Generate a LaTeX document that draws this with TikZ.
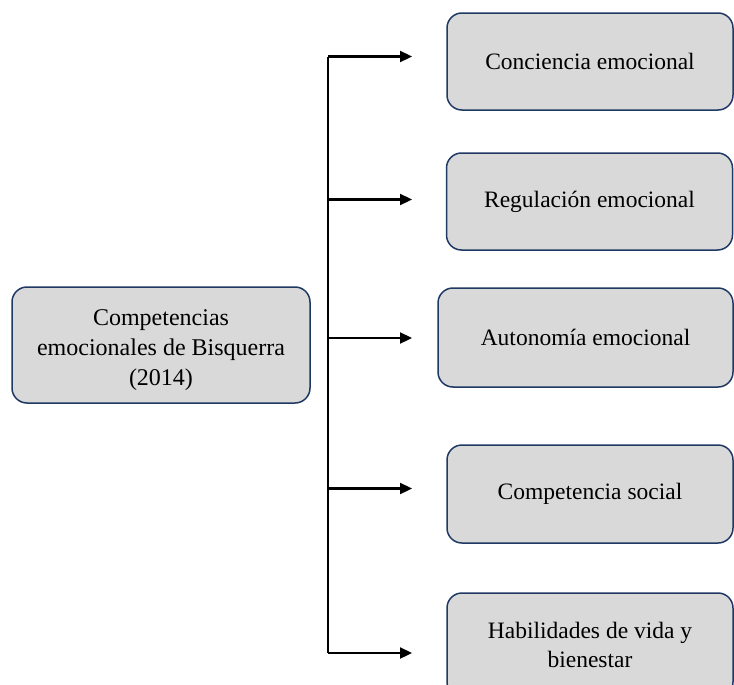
\documentclass[tikz,border=0pt]{standalone}
\usepackage{fontspec}
\setmainfont{Liberation Serif}
\usetikzlibrary{arrows.meta}
\definecolor{boxfill}{HTML}{D9D9D9}
\definecolor{boxline}{HTML}{1F3864}
\tikzset{
  item/.style={draw=boxline, fill=boxfill, line width=0.75pt, rounded corners=7.5pt,
    align=center, inner sep=0pt, minimum width=143pt, minimum height=48.5pt,
    font=\fontsize{11.75}{14.8}\selectfont},
  link/.style={line width=1.15pt, -{Triangle[length=6pt,width=5.5pt]}},
  trunk/.style={line width=1.15pt}
}
\begin{document}
\begin{tikzpicture}[x=0.5pt,y=-0.5pt]
  \useasboundingbox (0,0) rectangle (734,685);
  % source box, its text set a little below the centre
  \node[item, minimum width=149pt, minimum height=58pt,
    label={[align=center, font=\fontsize{12}{15}\selectfont, yshift=-2.5pt]center:{Competencias\\emocionales de Bisquerra\\(2014)}}]
    (main) at (161,345) {};
  % competence boxes
  \node[item] (c1) at (590,61.5) {Conciencia emocional};
  \node[item] (c2) at (589.5,201.5) {Regulación emocional};
  \node[item, minimum width=147.5pt, minimum height=49.5pt] (c3) at (585.5,337.5) {Autonomía emocional};
  \node[item, minimum height=49pt] (c4) at (590,494) {Competencia social};
  \node[item, minimum height=52pt] (c5) at (590,645) {Habilidades de vida y\\bienestar};
  % branching trunk
  \coordinate (top) at (328,56.5);
  \coordinate (bot) at (328,653);
  \draw[trunk] (top) -- (bot);
  \foreach \i/\y in {1/56.5,2/199.5,3/338,4/488.5,5/653}{
    \coordinate (s\i) at (328,\y);
    \coordinate (t\i) at (412,\y);
    \draw[link] (s\i) -- (t\i);
  }
\end{tikzpicture}
\end{document}
